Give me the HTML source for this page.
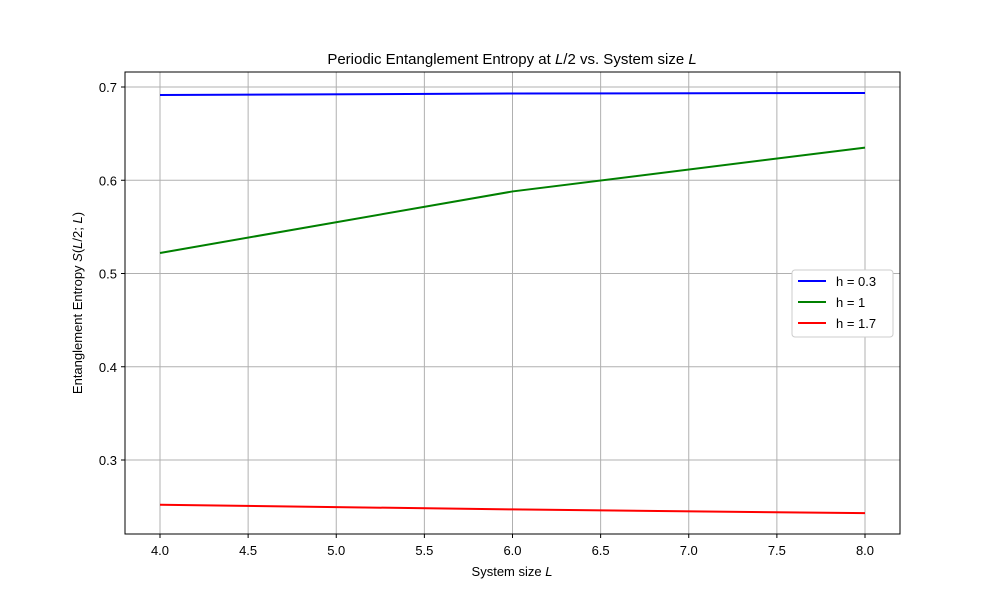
<!DOCTYPE html>
<html><head><meta charset="utf-8"><style>
body{margin:0;background:#fff;font-family:"Liberation Sans","DejaVu Sans",sans-serif}
</style></head><body>
<svg id="chart" width="1000" height="600" xmlns="http://www.w3.org/2000/svg">
<rect width="1000" height="600" fill="#fff"/>
<g id="grid"></g>
<g id="series"></g>
<rect x="125" y="72" width="775" height="462" fill="none" stroke="#000" stroke-width="1"/>
<g id="ticks" font-size="13" fill="#000"></g>
<text x="512" y="64" text-anchor="middle" font-size="15">Periodic Entanglement Entropy at <tspan font-style="italic">L</tspan>/2 vs. System size <tspan font-style="italic">L</tspan></text>
<text x="512" y="576" text-anchor="middle" font-size="13">System size <tspan font-style="italic">L</tspan></text>
<text transform="translate(82,303) rotate(-90)" text-anchor="middle" font-size="13">Entanglement Entropy <tspan font-style="italic">S</tspan>(<tspan font-style="italic">L</tspan>/2; <tspan font-style="italic">L</tspan>)</text>
<g>
<rect x="792" y="270" width="101" height="67" rx="3" fill="#fff" stroke="#ccc"/>
<g><line x1="798" y1="281" x2="826" y2="281" stroke="#0000ff" stroke-width="2"/><text x="836" y="286" font-size="13">h = 0.3</text></g>
<g><line x1="798" y1="302" x2="826" y2="302" stroke="#008000" stroke-width="2"/><text x="836" y="307" font-size="13">h = 1</text></g>
<g><line x1="798" y1="323" x2="826" y2="323" stroke="#ff0000" stroke-width="2"/><text x="836" y="328" font-size="13">h = 1.7</text></g>
</g>
</svg>
<script>
const sizes=[4,6,8];
const h03=[0.6914,0.6930,0.6936];
const h1=[0.522,0.588,0.635];
const h17=[0.252,0.247,0.243];
const xTicks=[4.0,4.5,5.0,5.5,6.0,6.5,7.0,7.5,8.0];
const yTicks=[0.3,0.4,0.5,0.6,0.7];
const NS="http://www.w3.org/2000/svg";
function xs(v){return 160+(v-4)*176.25;}
function ys(v){return 87+(0.7-v)*932.5;}
const grid=document.getElementById('grid'),ticks=document.getElementById('ticks'),ser=document.getElementById('series');
function mk(tag,attrs,parent){const e=document.createElementNS(NS,tag);for(const k in attrs)e.setAttribute(k,attrs[k]);parent.appendChild(e);return e;}
xTicks.forEach(t=>{const x=xs(t);
 const g=mk('line',{x1:x,x2:x,y1:72,y2:534,stroke:'#b0b0b0','stroke-width':1},grid);
 
 
 mk('line',{x1:x,x2:x,y1:534,y2:538,stroke:'#000'},ticks);
 const tx=mk('text',{x:x,y:555,'text-anchor':'middle'},ticks);tx.textContent=t.toFixed(1);
 
 });
yTicks.forEach(t=>{const y=ys(t);
 const g=mk('line',{x1:125,x2:900,y1:y,y2:y,stroke:'#b0b0b0','stroke-width':1},grid);
 
 
 mk('line',{x1:121,x2:125,y1:y,y2:y,stroke:'#000'},ticks);
 const tx=mk('text',{x:117,y:y+5,'text-anchor':'end'},ticks);tx.textContent=t.toFixed(1);
 
 });
[[h03,'#0000ff','line-h03'],[h1,'#008000','line-h1'],[h17,'#ff0000','line-h17']].forEach(([d,c,n])=>{
 const p=mk('polyline',{points:sizes.map((s,i)=>xs(s)+','+ys(d[i])).join(' '),fill:'none',stroke:c,'stroke-width':2},ser);
 
 });
</script>
</body></html>
